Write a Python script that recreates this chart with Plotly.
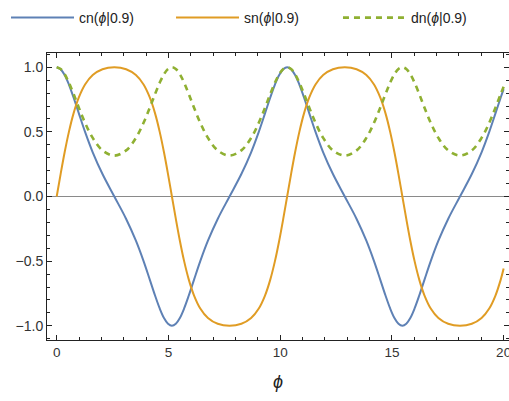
import plotly.graph_objects as go

# Jacobi elliptic functions with parameter m = 0.9, sampled along phi
phi = [0, 0.1753, 0.3556, 0.5464, 0.7548, 0.9908, 1.2690, 1.6121, 2.0485, 2.5781,
       3.1077, 3.5441, 3.8872, 4.1654, 4.4014, 4.6098, 4.8006, 4.9809, 5.1562,
       5.3315, 5.5118, 5.7026, 5.9110, 6.1470, 6.4252, 6.7683, 7.2047, 7.7343,
       8.2639, 8.7003, 9.0434, 9.3216, 9.5576, 9.7660, 9.9568, 10.1371, 10.3124,
       10.4877, 10.6680, 10.8588, 11.0672, 11.3032, 11.5814, 11.9245, 12.3609, 12.8905,
       13.4201, 13.8565, 14.1996, 14.4778, 14.7138, 14.9222, 15.1130, 15.2933, 15.4686,
       15.6439, 15.8242, 16.0150, 16.2234, 16.4594, 16.7376, 17.0807, 17.5171, 18.0467,
       18.5763, 19.0127, 19.3558, 19.6340, 19.8700, 20.0]

cn = [1, 0.9848, 0.9397, 0.8660, 0.7660, 0.6428, 0.5, 0.3420, 0.1736, 0,
      -0.1736, -0.3420, -0.5, -0.6428, -0.7660, -0.8660, -0.9397, -0.9848, -1,
      -0.9848, -0.9397, -0.8660, -0.7660, -0.6428, -0.5, -0.3420, -0.1736, 0,
      0.1736, 0.3420, 0.5, 0.6428, 0.7660, 0.8660, 0.9397, 0.9848, 1,
      0.9848, 0.9397, 0.8660, 0.7660, 0.6428, 0.5, 0.3420, 0.1736, 0,
      -0.1736, -0.3420, -0.5, -0.6428, -0.7660, -0.8660, -0.9397, -0.9848, -1,
      -0.9848, -0.9397, -0.8660, -0.7660, -0.6428, -0.5, -0.3420, -0.1736, 0,
      0.1736, 0.3420, 0.5, 0.6428, 0.7660, 0.8304]

sn = [0, 0.1736, 0.3420, 0.5, 0.6428, 0.7660, 0.8660, 0.9397, 0.9848, 1,
      0.9848, 0.9397, 0.8660, 0.7660, 0.6428, 0.5, 0.3420, 0.1736, 0,
      -0.1736, -0.3420, -0.5, -0.6428, -0.7660, -0.8660, -0.9397, -0.9848, -1,
      -0.9848, -0.9397, -0.8660, -0.7660, -0.6428, -0.5, -0.3420, -0.1736, 0,
      0.1736, 0.3420, 0.5, 0.6428, 0.7660, 0.8660, 0.9397, 0.9848, 1,
      0.9848, 0.9397, 0.8660, 0.7660, 0.6428, 0.5, 0.3420, 0.1736, 0,
      -0.1736, -0.3420, -0.5, -0.6428, -0.7660, -0.8660, -0.9397, -0.9848, -1,
      -0.9848, -0.9397, -0.8660, -0.7660, -0.6428, -0.5572]

dn = [1, 0.9863, 0.9459, 0.8803, 0.7926, 0.6869, 0.5701, 0.4531, 0.3566, 0.3162,
      0.3566, 0.4531, 0.5701, 0.6869, 0.7926, 0.8803, 0.9459, 0.9863, 1,
      0.9863, 0.9459, 0.8803, 0.7926, 0.6869, 0.5701, 0.4531, 0.3566, 0.3162,
      0.3566, 0.4531, 0.5701, 0.6869, 0.7926, 0.8803, 0.9459, 0.9863, 1,
      0.9863, 0.9459, 0.8803, 0.7926, 0.6869, 0.5701, 0.4531, 0.3566, 0.3162,
      0.3566, 0.4531, 0.5701, 0.6869, 0.7926, 0.8803, 0.9459, 0.9863, 1,
      0.9863, 0.9459, 0.8803, 0.7926, 0.6869, 0.5701, 0.4531, 0.3566, 0.3162,
      0.3566, 0.4531, 0.5701, 0.6869, 0.7926, 0.8489]

names = ["cn(<i>ϕ</i>|0.9)", "sn(<i>ϕ</i>|0.9)", "dn(<i>ϕ</i>|0.9)"]
colors = ["#5E81B5", "#E09C24", "#8FB032"]
dashes = ["solid", "solid", "6px,5px"]
widths = [2, 2, 2.6]
legend_ids = ["legend", "legend2", "legend3"]
legend_x = [0.0118, 0.336, 0.664]

FONT = "Liberation Sans, Arial, sans-serif"

fig = go.Figure()
for ys, name, col, dash, w, lg in zip([cn, sn, dn], names, colors, dashes, widths, legend_ids):
    fig.add_trace(go.Scatter(
        x=phi, y=ys, name=name, mode="lines", legend=lg,
        line=dict(color=col, width=w, dash=dash, shape="spline", smoothing=1.0),
    ))

axis_common = dict(
    showline=True, linecolor="#222", linewidth=1, mirror="allticks",
    ticks="inside", ticklen=5, tickwidth=1, tickcolor="#222",
    showgrid=False,
)

fig.update_xaxes(
    range=[-0.434, 20.24], tick0=0, dtick=5,
    minor=dict(dtick=1, ticks="inside", ticklen=3, tickcolor="#222", showgrid=False),
    zeroline=False, ticklabeloverflow="allow",
    tickfont=dict(family=FONT, size=13.5, color="#333"),
    title=dict(text="<i>ϕ</i>", font=dict(family=FONT, size=18, color="#222"), standoff=16),
    **axis_common,
)
fig.update_yaxes(
    range=[-1.11, 1.11], tick0=0, dtick=0.5, tickformat=".1f",
    minor=dict(dtick=0.1, ticks="inside", ticklen=3, tickcolor="#222", showgrid=False),
    zeroline=True, zerolinecolor="#8a8a8a", zerolinewidth=1,
    tickfont=dict(family=FONT, size=14, color="#333"),
    **axis_common,
)

legend_style = dict(
    orientation="h", xref="container", yref="container",
    y=0.995, xanchor="left", yanchor="top", itemwidth=63,
    font=dict(family=FONT, size=14, color="#222"),
    bgcolor="rgba(0,0,0,0)",
)

fig.update_layout(
    width=509, height=401,
    margin=dict(l=47, r=0, t=53, b=61, autoexpand=False),
    paper_bgcolor="white", plot_bgcolor="white",
    showlegend=True,
    legend=dict(x=legend_x[0], **legend_style),
    legend2=dict(x=legend_x[1], **legend_style),
    legend3=dict(x=legend_x[2], **legend_style),
)

fig.write_html("out.html")
